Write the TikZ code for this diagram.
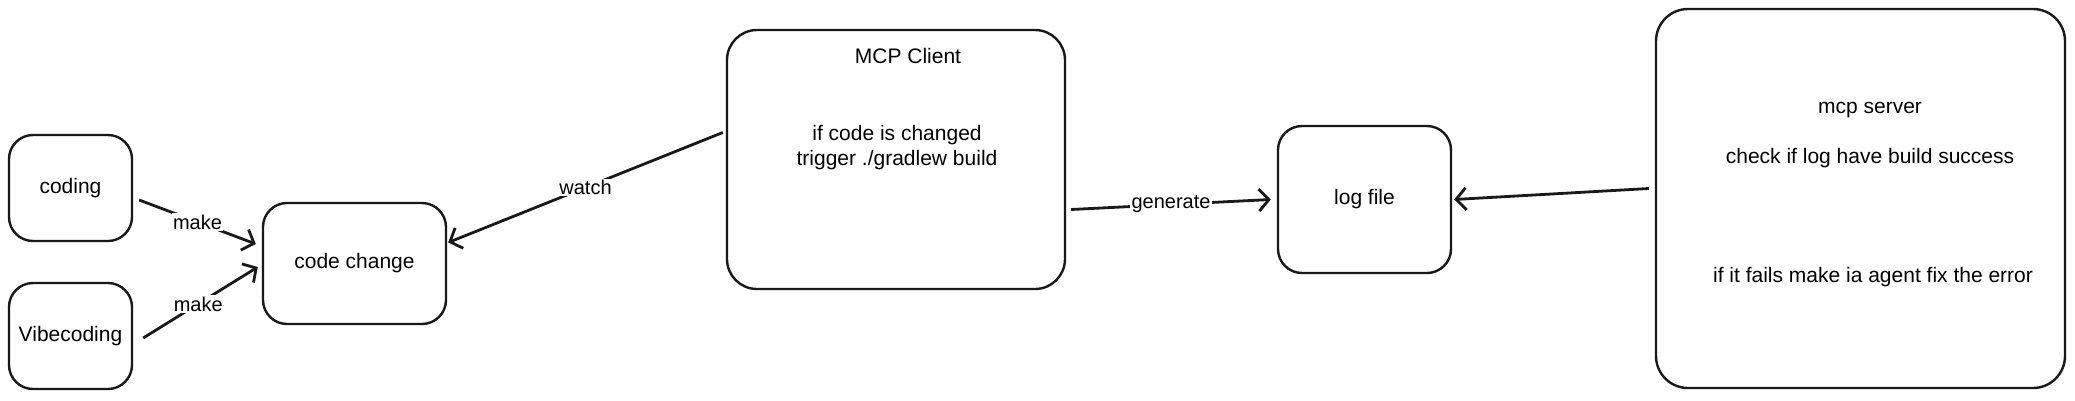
\documentclass[tikz,border=0pt]{standalone}
\usepackage{fontspec}
\setmainfont{Liberation Sans}
\usetikzlibrary{arrows.meta}
\begin{document}
\begin{tikzpicture}[x=1pt,y=-1pt,
  box/.style={draw=black!90,line width=2.4pt,rounded corners=24pt,inner sep=0pt},
  txt/.style={font=\fontsize{21}{25}\selectfont,align=center,inner sep=1pt},
  conn/.style={draw=black!90,line width=2.8pt,-{Straight Barb[length=10pt,width=22pt,line width=2.8pt]}},
  lbl/.style={font=\fontsize{20}{22}\selectfont,fill=white,inner sep=1.5pt}]
\useasboundingbox (0,0) rectangle (2075,400);
% boxes
\node[box,minimum width=123pt,minimum height=106pt] (coding) at (70.5,188) {};
\node[box,minimum width=123pt,minimum height=106pt] (vibe) at (70.5,336) {};
\node[box,minimum width=183pt,minimum height=121pt] (cc) at (354.5,263.5) {};
\node[box,rounded corners=30pt,minimum width=338pt,minimum height=259pt] (mcp) at (896,159.5) {};
\node[box,minimum width=173pt,minimum height=147pt] (log) at (1364.5,199.5) {};
\node[box,rounded corners=32pt,minimum width=409pt,minimum height=379pt] (server) at (1860.5,198.5) {};
% texts
\node[txt] (tcoding) at (coding) {coding};
\node[txt] (tvibe) at (vibe) {Vibecoding};
\node[txt] (tcc) at (cc) {code change};
\node[txt] (tmcp) at (908,56) {MCP Client};
\node[txt] (tmcpbody) at (897,147.5) {if code is changed\\trigger ./gradlew build};
\node[txt] (tlog) at (log) {log file};
\node[txt] (tserver) at (1870,110) {mcp server};
\node[txt] (tcheck) at (1870,158) {check if log have build success};
\node[txt] (tfail) at (1873,277) {if it fails make ia agent fix the error};
% connectors
\draw[conn] ([xshift=6pt,yshift=-12pt]coding.east) -- node[lbl] {make} ([xshift=-6pt,yshift=19.5pt]cc.west);
\draw[conn] ([xshift=10pt,yshift=-2pt]vibe.east) -- node[lbl,pos=0.48] {make} ([xshift=-4pt,yshift=-3.5pt]cc.west);
\draw[conn] ([xshift=-3pt,yshift=27pt]mcp.west) -- node[lbl] {watch} ([xshift=1pt,yshift=21pt]cc.east);
\draw[conn] ([xshift=5pt,yshift=-50pt]mcp.east) -- node[lbl] {generate} ([xshift=-6pt]log.west);
\draw[conn] ([xshift=-6pt,yshift=10pt]server.west) -- ([xshift=2pt]log.east);
\end{tikzpicture}
\end{document}
